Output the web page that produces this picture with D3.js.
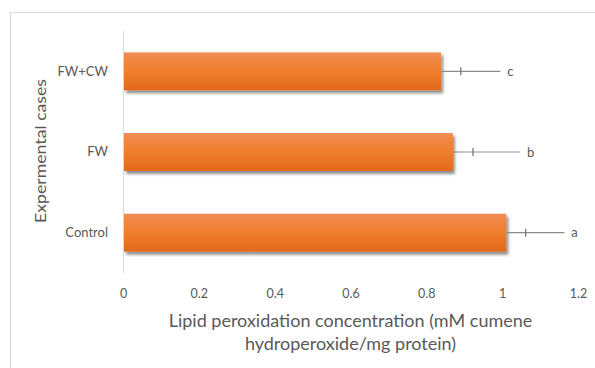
<!DOCTYPE html>
<html><head><meta charset="utf-8">
<script src="https://cdn.jsdelivr.net/npm/d3@7"></script>
<style>
html,body{margin:0;padding:0;background:#fff;}
svg{display:block;}
text{font-family:Lato,"Open Sans",sans-serif;}
</style></head>
<body>
<script>
const categories = ["Control", "FW", "FW+CW"];
const values = [1.011, 0.870, 0.839];
const errTick = [1.062, 0.923, 0.891];
const errEnd = [1.164, 1.047, 0.995];
const letters = ["a", "b", "c"];
const xTicks = [0, 0.2, 0.4, 0.6, 0.8, 1, 1.2];
const xTitle = ["Lipid peroxidation concentration (mM cumene", "hydroperoxide/mg protein)"];
const yTitle = "Expermental cases";

const W = 595, H = 368;
const svg = d3.select("body").append("svg").attr("width", W).attr("height", H);
const defs = svg.append("defs");
const grad = defs.append("linearGradient").attr("id","barGrad").attr("x1",0).attr("y1",0).attr("x2",0).attr("y2",1);
grad.append("stop").attr("offset","0%").attr("stop-color","#f08c55");
grad.append("stop").attr("offset","45%").attr("stop-color","#f07f30");
grad.append("stop").attr("offset","100%").attr("stop-color","#e2691b");
const f = defs.append("filter").attr("id","shadow").attr("x","-10%").attr("y","-20%").attr("width","130%").attr("height","160%");
f.append("feGaussianBlur").attr("in","SourceAlpha").attr("stdDeviation",1.6).attr("result","b");
f.append("feOffset").attr("in","b").attr("dx",1.5).attr("dy",2.5).attr("result","o");
f.append("feComponentTransfer").attr("in","o").attr("result","o2").append("feFuncA").attr("type","linear").attr("slope",0.45);
const m = f.append("feMerge");
m.append("feMergeNode").attr("in","o2");
m.append("feMergeNode").attr("in","SourceGraphic");

// outer frame
svg.append("rect").attr("x",10.5).attr("y",12.5).attr("width",700).attr("height",500)
  .attr("fill","none").attr("stroke","#d9d9d9").attr("stroke-width",1);

const x = d3.scaleLinear().domain([0,1.2]).range([123,578]);
const y = d3.scaleBand().domain(categories.slice().reverse()).range([31,273]).paddingInner(0.53).paddingOuter(0.265);

// vertical axis line
svg.append("line").attr("x1",x(0)+0.5).attr("x2",x(0)+0.5).attr("y1",31).attr("y2",273)
  .attr("stroke","#d9d9d9").attr("stroke-width",1);

// x tick labels
const xAxis = d3.axisBottom(x).tickValues(xTicks).tickSize(0).tickPadding(0).tickFormat(d => String(d));
const gx = svg.append("g").attr("transform","translate(0,289)").call(xAxis);
gx.select(".domain").remove();
gx.selectAll("text").attr("fill","#595959").style("font-size","12.5px").style("font-family","Lato,'Open Sans',sans-serif").attr("dy","0.71em");

// y tick labels
const yAxis = d3.axisLeft(y).tickSize(0).tickPadding(15);
const gy = svg.append("g").attr("transform",`translate(${x(0)},0)`).call(yAxis);
gy.select(".domain").remove();
gy.selectAll("text").attr("fill","#595959").style("font-size","13px").style("font-family","Lato,'Open Sans',sans-serif");

// bars
svg.selectAll("rect.bar").data(categories).enter().append("rect").attr("class","bar")
  .attr("x", x(0)+1).attr("y", d => y(d))
  .attr("width", (d,i) => x(values[i]) - x(0) - 1).attr("height", y.bandwidth())
  .attr("fill","url(#barGrad)").attr("filter","url(#shadow)");

// error lines
const eg = svg.append("g");
categories.forEach((c,i) => {
  const cy = y(c) + y.bandwidth()/2;
  eg.append("line").attr("x1",x(values[i])).attr("x2",x(errEnd[i])).attr("y1",cy).attr("y2",cy)
    .attr("stroke","#8c8c8c").attr("stroke-width",1.2);
  eg.append("line").attr("x1",x(errTick[i])).attr("x2",x(errTick[i])).attr("y1",cy-4).attr("y2",cy+4)
    .attr("stroke","#6f6f6f").attr("stroke-width",1.2);
  eg.append("text").attr("x",x(errEnd[i])+7).attr("y",cy).attr("dy","0.35em")
    .attr("fill","#595959").style("font-size","13px").text(letters[i]);
});

// x axis title
svg.append("text").attr("text-anchor","middle")
  .attr("fill","#595959").style("font-size","18px")
  .selectAll("tspan").data(xTitle).enter().append("tspan")
  .attr("x",(x(0)+x(1.2))/2).attr("y",(d,i)=>327+i*23).text(d=>d);

// y axis title
svg.append("text").attr("transform",`translate(46,151) rotate(-90)`).attr("text-anchor","middle")
  .attr("fill","#595959").style("font-size","16px")
  .attr("textLength",144).attr("lengthAdjust","spacingAndGlyphs").text(yTitle);
</script>
</body></html>
